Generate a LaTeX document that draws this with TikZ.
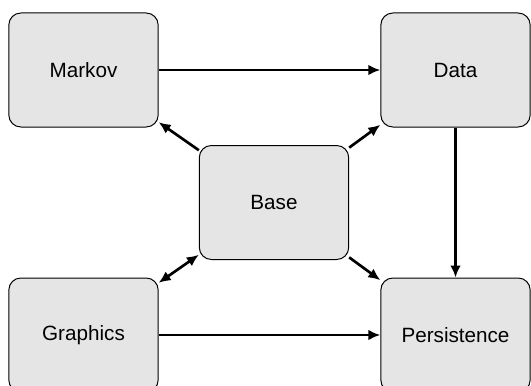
\documentclass[tikz,border=0pt]{standalone}
\usepackage{fontspec}
\setmainfont{Liberation Sans}
\usepackage{tikz}
\usetikzlibrary{arrows.meta,%
                shapes}

\begin{document}
\begin{tikzpicture}[x=0.75pt,y=-0.75pt]
		\tikzstyle{ModuleStyle}=[draw,fill=black!10,rounded corners=9pt,line width=0.75pt,
			minimum width=112pt,minimum height=85.5pt,font=\fontsize{15.5}{18}\selectfont]
		\tikzstyle{EdgeStyle}=[-{Latex[length=9pt,width=8pt]},line width=2pt]
		\tikzstyle{BothStyle}=[{Latex[length=9pt,width=8pt]}-{Latex[length=9pt,width=8pt]},line width=2pt]
		\useasboundingbox (0,0) rectangle (531,385);
		\clip (0,0) rectangle (531,385);
		\node[ModuleStyle] (Markov) at (83.5,70) {Markov};
		\node[ModuleStyle] (Data) at (455.5,70) {Data};
		\node[ModuleStyle] (Base) at (274,202.5) {Base};
		\node[ModuleStyle] (Graphics) at (83.5,335) {Graphics};
		\node[ModuleStyle] (Persistence) at (455.5,335) {Persistence};
		\draw[EdgeStyle] (Markov) -- (Data);
		\draw[EdgeStyle] (Graphics) -- (Persistence);
		\draw[EdgeStyle] (Data) -- (Persistence);
		\draw[EdgeStyle] (Base) -- (Markov);
		\draw[EdgeStyle] (Base) -- (Data);
		\draw[EdgeStyle] (Base) -- (Persistence);
		\draw[BothStyle] (Base) -- (Graphics);
		%  \draw[EdgeStyle] (Markov) -- (Graphics);
	\end{tikzpicture}
\end{document}
